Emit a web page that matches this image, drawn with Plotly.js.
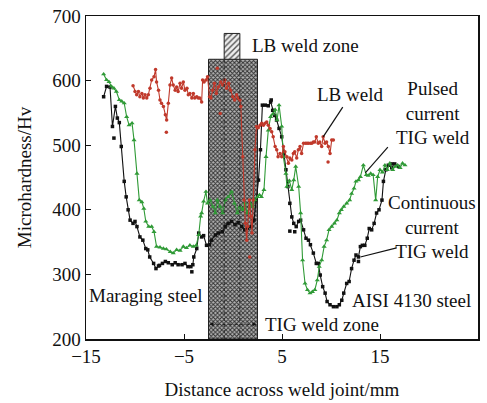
<!DOCTYPE html>
<html><head><meta charset="utf-8">
<script src="https://cdn.plot.ly/plotly-3.0.1.min.js"></script>
<style>html,body{margin:0;padding:0;background:#fff}#c{width:487px;height:403px}</style>
</head><body><div id="c"></div>
<script>
// Continuous current TIG weld (black squares)
const ctigX = [-13.2,-12.9,-12.55,-12.3,-12.0,-11.8,-11.6,-11.4,-11.1,-10.9,-10.7,-10.5,-10.2,-10.0,-9.8,-9.5,-9.2,-8.9,-8.7,-8.5,-8.1,-7.86,-7.5,-7.2,-6.9,-6.6,-6.2,-5.9,-5.6,-5.2,-4.9,-4.6,-4.3,-4.1,-4.0,-3.7,-3.5,-3.2,-3.0,-2.7,-2.4,-2.2,-1.8,-1.5,-1.1,-0.8,-0.5,-0.14,0.2,0.54,0.9,1.2,1.5,1.9,2.14,2.35,2.6,2.8,3.0,3.3,3.6,3.84,4.05,4.25,4.45,4.7,4.97,5.2,5.4,5.6,5.8,6.0,6.2,6.45,6.7,6.9,7.2,7.45,7.7,7.9,8.2,8.5,8.7,8.9,9.15,9.4,9.6,9.9,10.25,10.6,10.85,11.1,11.3,11.6,11.85,12.1,12.35,12.55,12.8,13.0,13.2,13.45,13.7,13.9,14.15,14.4,14.65,14.9,15.2,15.35,15.6,15.85,16.2,16.5,16.9];
const ctigY = [575,591,590,529,560,542,535,498,444,420,400,384,379,382,374,358,353,340,338,327,317,309,314,317,320,318,315,318,315,315,317,312,312,315,327,340,364,358,360,345,346,353,361,364,366,374,379,382,377,380,374,369,372,374,384,415,446,493,562,562,561,567,554,546,539,526,513,487,462,436,410,389,379,374,382,384,369,356,353,346,333,317,317,299,281,271,258,253,250,250,253,260,271,286,289,309,322,330,327,343,345,345,356,371,369,379,395,400,415,444,462,469,471,471,467];
const ctigOutX = [-12.15,-7.6,-4.2,3.9,5.8,6.3,12.8,16.2];
const ctigOutY = [511,313,304,570,367,366,320,465];

// Pulsed current TIG weld (green triangles)
const ptigX = [-13.2,-12.9,-12.65,-12.4,-12.15,-11.9,-11.6,-11.35,-11.1,-10.85,-10.6,-10.3,-10.1,-9.8,-9.56,-9.3,-9.1,-8.9,-8.6,-8.3,-8.06,-7.8,-7.45,-7.1,-6.8,-6.4,-6.1,-5.75,-5.4,-5.07,-4.75,-4.4,-4.05,-3.75,-3.5,-3.3,-3.2,-3.0,-2.76,-2.6,-2.35,-2.05,-1.8,-1.6,-1.3,-1.05,-0.8,-0.5,-0.14,0.15,0.44,0.7,1.0,1.2,1.46,1.75,2.0,2.25,2.5,2.7,2.9,3.16,3.37,3.6,3.84,4.05,4.3,4.5,4.7,4.97,5.14,5.4,5.5,5.75,6.0,6.2,6.4,6.7,6.9,7.1,7.35,7.6,7.86,8.1,8.35,8.6,8.8,9.05,9.3,9.55,9.8,10.07,10.35,10.6,10.85,11.05,11.3,11.6,11.9,12.1,12.35,12.55,12.8,13.0,13.3,13.6,13.8,14.05,14.3,14.56,14.76,15.0,15.25,15.5,15.75,16.0,16.3,16.55,16.8,17.05,17.3,17.55];
const ptigY = [610,601,598,591,588,583,570,568,565,544,531,534,508,456,415,412,402,382,374,374,366,343,342,340,339,335,333,338,337,343,341,345,343,345,361,390,395,413,428,410,415,405,395,415,405,395,415,420,428,410,395,405,400,410,395,410,405,415,420,423,420,431,482,523,544,548,555,539,562,529,482,456,436,445,431,446,467,436,395,322,286,276,271,273,276,291,312,322,343,353,369,374,379,384,395,400,405,410,415,425,433,444,446,451,469,454,453,456,454,415,451,462,458,469,462,472,462,467,469,465,472,469];

// LB weld (red circles)
const lbX = [-10.2,-10.0,-9.83,-9.65,-9.5,-9.3,-9.15,-8.98,-8.8,-8.64,-8.47,-8.3,-8.06,-7.9,-7.8,-7.6,-7.45,-7.3,-7.1,-6.9,-6.77,-6.6,-6.43,-6.26,-6.1,-5.9,-5.75,-5.6,-5.4,-5.25,-5.07,-4.9,-4.7,-4.56,-4.4,-4.2,-4.05,-3.9,-3.7,-3.55,-3.4,-3.2,-3.1,-2.95,-2.76,-2.6,-2.4,-2.25,-2.1,-1.9,-1.7,-1.5,-1.25,-1.05,-0.85,-0.65,-0.44,-0.25,-0.03,0.17,0.37,0.54,0.71,0.8,1.0,1.12,1.26,1.4,1.5,1.67,1.82,1.94,2.07,2.24,2.4,2.58,2.76,2.93,3.1,3.27,3.44,3.6,3.78,3.95,4.1,4.3,4.46,4.6,4.8,4.97,5.14,5.3,5.5,5.65,5.8,6.0,6.16,6.3,6.5,6.67,6.84,7.0,7.2,7.4,7.55,7.7,7.9,8.05,8.2,8.35,8.5,8.7,8.85,9.05,9.2,9.4,9.55,9.73,9.9,10.07,10.24];
const lbY = [592,583,578,583,575,580,573,578,573,578,588,601,606,617,598,585,570,565,560,547,539,565,593,604,593,585,590,583,596,588,598,585,588,578,580,573,580,573,575,573,573,567,601,598,601,606,575,573,585,596,580,590,598,593,601,588,596,585,575,570,578,573,570,560,482,415,379,353,374,415,390,364,415,493,529,527,531,534,531,534,536,531,526,521,513,498,493,482,487,482,498,490,482,472,480,477,487,490,480,493,498,487,503,503,503,503,503,503,505,505,513,503,505,498,513,503,505,498,487,508,508];
const lbOutX = [-6.8,-1.6,-1.3,1.7,9.7];
const lbOutY = [520,619,549,327,474];

// zones (x-range, y-range)
const tigZoneX = [-2.5, 2.5], tigZoneTop = 633;
const lbZoneX = [-0.9, 0.7], lbZoneTop = 673;

const BLACK = '#111111', GREEN = '#2f9a36', RED = '#c0392b';
const F = 'Liberation Serif, Times New Roman, serif';
const FS = 19;

const traces = [
  {type:'bar', x:[(tigZoneX[0]+tigZoneX[1])/2], y:[tigZoneTop-200], base:[200], width:[tigZoneX[1]-tigZoneX[0]],
   marker:{color:'#888', line:{color:'#222', width:1}, pattern:{shape:'x', size:3, solidity:0.55, fgcolor:'#333', bgcolor:'#b4b4b4', fillmode:'replace'}}, hoverinfo:'skip', showlegend:false},
  {type:'bar', x:[(lbZoneX[0]+lbZoneX[1])/2], y:[lbZoneTop-tigZoneTop], base:[tigZoneTop], width:[lbZoneX[1]-lbZoneX[0]],
   marker:{color:'#ddd', line:{color:'#222', width:1}, pattern:{shape:'/', size:4, solidity:0.35, fgcolor:'#555', bgcolor:'#eeeeee', fillmode:'replace'}}, hoverinfo:'skip', showlegend:false},
  {type:'scatter', mode:'lines+markers', x:ctigX, y:ctigY, line:{color:BLACK, width:1.1}, marker:{symbol:'square', size:3.5, color:BLACK}, showlegend:false},
  {type:'scatter', mode:'markers', x:ctigOutX, y:ctigOutY, marker:{symbol:'square', size:3.5, color:BLACK}, showlegend:false},
  {type:'scatter', mode:'lines+markers', x:ptigX, y:ptigY, line:{color:GREEN, width:1.1}, marker:{symbol:'triangle-up', size:4.5, color:GREEN}, showlegend:false},
  {type:'scatter', mode:'lines+markers', x:lbX, y:lbY, line:{color:RED, width:1.1}, marker:{symbol:'circle', size:3.5, color:RED}, showlegend:false},
  {type:'scatter', mode:'markers', x:lbOutX, y:lbOutY, marker:{symbol:'circle', size:3.5, color:RED}, showlegend:false}
];

const ann = (text, x, y, extra) => Object.assign({text, x, y, xref:'x', yref:'y', showarrow:false, font:{family:F, size:FS, color:'#111'}}, extra||{});

const layout = {
  width:487, height:403,
  margin:{l:86, r:9, t:16, b:64},
  paper_bgcolor:'#fff', plot_bgcolor:'#fff',
  barmode:'overlay', bargap:0,
  font:{family:F, size:FS, color:'#111'},
  xaxis:{range:[-15,25], tickmode:'array', tickvals:[-15,-5,5,15,25], ticktext:['\u221215','\u22125','5','15','25'],
         ticks:'inside', ticklen:5, tickcolor:'#111', showline:true, mirror:true, linecolor:'#111', linewidth:1.5,
         showgrid:false, zeroline:false, tickfont:{family:F, size:FS},
         title:{text:'Distance across weld joint/mm', font:{family:F, size:FS}, standoff:16}},
  yaxis:{range:[200,700], tickvals:[200,300,400,500,600,700], ticks:'inside', ticklen:5, tickcolor:'#111',
         showline:true, mirror:true, linecolor:'#111', linewidth:1.5, showgrid:false, zeroline:false, tickfont:{family:F, size:FS},
         title:{text:'Microhardness/Hv', font:{family:F, size:FS}, standoff:15}},
  shapes:[
    {type:'line', xref:'x', yref:'y', x0:lbZoneX[0], x1:lbZoneX[0], y0:200, y1:tigZoneTop, line:{color:'#222', width:1, dash:'dot'}},
    {type:'line', xref:'x', yref:'y', x0:lbZoneX[1], x1:lbZoneX[1], y0:200, y1:tigZoneTop, line:{color:'#222', width:1, dash:'dot'}},
    {type:'line', xref:'x', yref:'y', x0:tigZoneX[0]+0.2, x1:tigZoneX[1]-0.2, y0:223, y1:223, line:{color:'#111', width:1, dash:'dot'}},
    {type:'line', xref:'x', yref:'y', x0:11.2, y0:559, x1:9.2, y1:513, line:{color:'#111', width:1.2}},
    {type:'line', xref:'x', yref:'y', x0:15.8, y0:497, x1:13.5, y1:457, line:{color:'#111', width:1.2}},
    {type:'line', xref:'x', yref:'y', x0:16.7, y0:341, x1:13.0, y1:327, line:{color:'#111', width:1.2}}
  ],
  annotations:[
    ann('LB weld zone', 1.7, 655, {xanchor:'left'}),
    ann('LB weld', 11.9, 578),
    ann('Pulsed<br>current<br>TIG weld', 20.4, 550),
    ann('Continuous<br>current<br>TIG weld', 20.3, 373),
    ann('Maraging steel', -8.9, 268),
    ann('AISI 4130 steel', 18.2, 260),
    ann('TIG weld zone', 9.1, 223),
    {x:tigZoneX[0]+0.1, y:223, ax:tigZoneX[0]+0.6, ay:223, axref:'x', ayref:'y', xref:'x', yref:'y', text:'', showarrow:true, arrowhead:2, arrowsize:0.8, arrowwidth:1, arrowcolor:'#111'},
    {x:tigZoneX[1]-0.1, y:223, ax:tigZoneX[1]-0.6, ay:223, axref:'x', ayref:'y', xref:'x', yref:'y', text:'', showarrow:true, arrowhead:2, arrowsize:0.8, arrowwidth:1, arrowcolor:'#111'}
  ]
};

Plotly.newPlot('c', traces, layout, {staticPlot:true, displayModeBar:false});
</script>
</body></html>
